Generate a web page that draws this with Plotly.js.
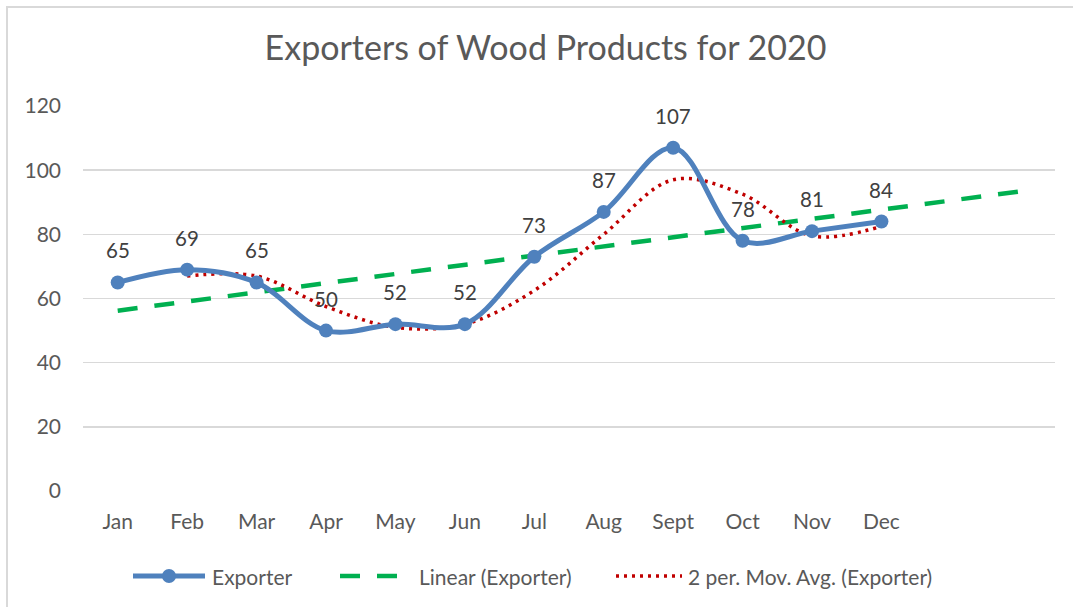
<!DOCTYPE html>
<html>
<head>
<meta charset="utf-8">
<script src="https://cdn.plot.ly/plotly-3.0.1.min.js"></script>
<style>
  html, body { margin: 0; padding: 0; background: #fff; overflow: hidden; }
  #chart { width: 1073px; height: 607px; position: absolute; left: 0; top: 0; }
  #frame { position: absolute; left: 6px; top: 6px; width: 2000px; height: 2000px;
           border-top: 2px solid #d9d9d9; border-left: 2px solid #d9d9d9; pointer-events: none; }
</style>
</head>
<body>
<div id="chart"></div>
<div id="frame"></div>
<script>
// ---- data ----
const months = ["Jan","Feb","Mar","Apr","May","Jun","Jul","Aug","Sept","Oct","Nov","Dec"];
const exporter = [65, 69, 65, 50, 52, 52, 73, 87, 107, 78, 81, 84];
// 2-period moving average (starts at Feb)
const movAvgMonths = ["Feb","Mar","Apr","May","Jun","Jul","Aug","Sept","Oct","Nov","Dec"];
const movAvg = [67, 67, 57.5, 51, 52, 62.5, 80, 97, 92.5, 79.5, 82.5];
// linear trendline endpoints (Jan and two periods past Dec)
const trendPos = [0, 13];
const trendVal = [56.2, 93.4];
const yTicks = [0, 20, 40, 60, 80, 100, 120];

const FONT = "Lato, 'Open Sans', sans-serif";
const BLUE = "#4F81BD", GREEN = "#00B050", RED = "#C00000";

const xIdx = months.map((m, i) => i);
const maIdx = movAvgMonths.map(m => months.indexOf(m));

const traces = [
  { x: trendPos, y: trendVal, mode: "lines", showlegend: false, hoverinfo: "skip",
    line: { color: GREEN, width: 4.5, dash: "20px,17px" } },
  { x: maIdx, y: movAvg, mode: "lines", showlegend: false, hoverinfo: "skip",
    line: { color: RED, width: 3.5, dash: "3px,5px", shape: "spline", smoothing: 1 } },
  { x: xIdx, y: exporter, mode: "lines+markers", showlegend: false,
    line: { color: BLUE, width: 5, shape: "spline", smoothing: 1 },
    marker: { color: BLUE, size: 14 } }
];

// plot area geometry helpers for legend placement (pixels -> paper)
const L = 83, R = 1055, T = 106, B = 491;
const px = v => (v - L) / (R - L);
const py = v => (B - v) / (B - T);
const legY = 576;

const annotations = exporter.map((v, i) => ({
  x: i, y: v, xref: "x", yref: "y", text: String(v), showarrow: false,
  yshift: 32, font: { family: FONT, size: 20.5, color: "#404040" }
}));

const legendItems = [
  { label: "Exporter", x0: 133, x1: 205, tx: 210 },
  { label: "Linear (Exporter)", x0: 340, x1: 400, tx: 417 },
  { label: "2 per. Mov. Avg. (Exporter)", x0: 616, x1: 682, tx: 686 }
];
legendItems.forEach(it => annotations.push({
  x: px(it.tx), y: py(legY), xref: "paper", yref: "paper", xanchor: "left", yanchor: "middle",
  text: it.label, showarrow: false, font: { family: FONT, size: 21, color: "#595959" }
}));

const shapes = [
  { type: "line", xref: "paper", yref: "paper", x0: px(133), x1: px(205), y0: py(legY), y1: py(legY),
    line: { color: BLUE, width: 5 } },
  { type: "circle", xref: "paper", yref: "paper", xsizemode: "pixel", ysizemode: "pixel",
    xanchor: px(169), yanchor: py(legY), x0: -7, x1: 7, y0: -7, y1: 7,
    fillcolor: BLUE, line: { color: BLUE, width: 0 } },
  { type: "line", xref: "paper", yref: "paper", x0: px(340), x1: px(398), y0: py(legY), y1: py(legY),
    line: { color: GREEN, width: 4.5, dash: "20px,17px" } },
  { type: "line", xref: "paper", yref: "paper", x0: px(616), x1: px(682), y0: py(legY), y1: py(legY),
    line: { color: RED, width: 3.5, dash: "3px,5px" } }
];

const layout = {
  width: 1073, height: 607,
  margin: { l: L, r: 1073 - R, t: T, b: 607 - B, pad: 0 },
  paper_bgcolor: "#fff", plot_bgcolor: "#fff",
  showlegend: false,
  title: { text: "Exporters of Wood Products for 2020", xref: "container", yref: "container",
           x: 545.5 / 1073, y: 1 - 48 / 607, xanchor: "center", yanchor: "middle",
           font: { family: FONT, size: 34, color: "#595959" } },
  xaxis: { range: [-0.5, 13.5], tickvals: xIdx, ticktext: months, showgrid: false, zeroline: false,
           showline: false, ticks: "", ticklabelstandoff: 16,
           tickfont: { family: FONT, size: 21, color: "#595959" }, fixedrange: true },
  yaxis: { range: [0, 120], tickvals: yTicks, showgrid: true, gridcolor: "#d9d9d9", gridwidth: 1.5,
           zeroline: false, showline: false, ticks: "", ticklabelstandoff: 21,
           tickfont: { family: FONT, size: 21, color: "#595959" }, fixedrange: true },
  annotations: annotations,
  shapes: shapes
};

Plotly.newPlot("chart", traces, layout, { displayModeBar: false, staticPlot: true });
</script>
</body>
</html>
